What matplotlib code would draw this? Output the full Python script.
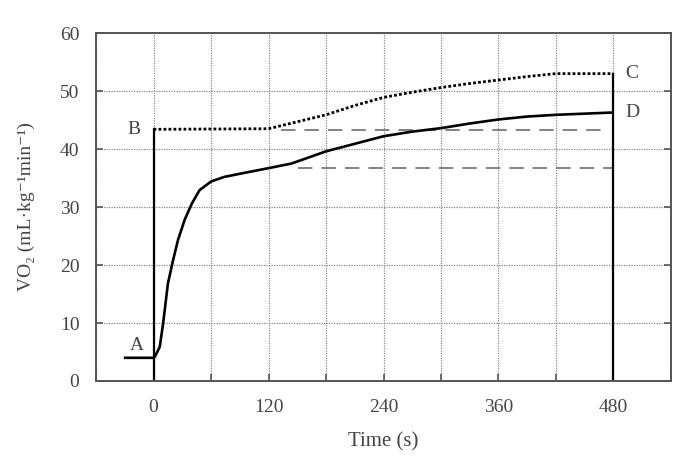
import matplotlib.pyplot as plt
from matplotlib.ticker import MultipleLocator

# solid curve (A -> D)
t_solid = [-31, 0, 1.5, 6.5, 10, 15, 20.5, 25.5, 32.5, 40, 48, 60, 74, 92, 120, 144,
           180, 210, 240, 270, 300, 330, 360, 390, 420, 450, 480]
v_solid = [4.0, 4.0, 4.2, 5.9, 9.9, 16.8, 20.9, 24.3, 27.8, 30.6, 32.9, 34.4, 35.2, 35.8,
           36.7, 37.5, 39.6, 40.9, 42.2, 43.0, 43.6, 44.4, 45.1, 45.6, 45.9, 46.1, 46.3]

# dotted curve (B -> C)
t_dot = [0, 120, 150, 180, 210, 240, 270, 300, 330, 360, 390, 420, 480]
v_dot = [43.4, 43.5, 44.7, 45.9, 47.5, 48.9, 49.8, 50.6, 51.3, 51.9, 52.5, 53.0, 53.0]

# vertical step lines
t_step = [0, 480]
v_step = [43.4, 53.0]

# gray dashed reference levels
dash_level = [43.3, 36.7]
dash_start = [133, 151]
dash_end = [469, 480]

labels = ["A", "B", "C", "D"]
label_t = [-10, -14, 492, 492]
label_v = [6.2, 43.4, 53.0, 46.3]
label_ha = ["right", "right", "left", "left"]

txt = "#444444"
font = ["Liberation Serif", "DejaVu Serif"]
plt.rcParams["font.family"] = font

fig = plt.figure(figsize=(6.83, 4.72), dpi=100)
ax = fig.add_axes([0.1406, 0.1928, 0.8418, 0.7372])

ax.set_xlim(-60, 540)
ax.set_ylim(0, 60)
ax.xaxis.set_major_locator(MultipleLocator(120))
ax.xaxis.set_minor_locator(MultipleLocator(60))
ax.yaxis.set_major_locator(MultipleLocator(10))
ax.set_xticks([0, 120, 240, 360, 480])
ax.grid(True, which="both", axis="x", color="#888888", lw=0.9, ls=(0, (1, 1)))
ax.grid(True, which="major", axis="y", color="#888888", lw=0.9, ls=(0, (1, 1)))
ax.tick_params(which="both", direction="in", length=5, width=1.2, color="#555555",
               labelsize=14, labelcolor=txt, right=True)
ax.tick_params(axis="y", pad=12)
ax.tick_params(axis="x", pad=13)
ax.tick_params(axis="x", which="minor", labelbottom=False)
for s in ax.spines.values():
    s.set_color("#555555")
    s.set_linewidth(1.4)

for lv, a, b in zip(dash_level, dash_start, dash_end):
    ax.plot([a, b], [lv, lv], color="#777777", lw=1.3, ls=(0, (8, 5)))

ax.plot(t_solid, v_solid, color="black", lw=1.9, solid_capstyle="butt")
ax.plot(t_dot, v_dot, color="black", lw=2.0, ls=(0, (1, 0.8)))
for t, v in zip(t_step, v_step):
    ax.plot([t, t], [0, v], color="black", lw=1.6)

for s, x, y, ha in zip(labels, label_t, label_v, label_ha):
    ax.text(x, y, s, ha=ha, va="center", fontsize=14, color=txt)

ax.set_xlabel("Time (s)", fontsize=15, color=txt, labelpad=12)
ax.set_ylabel("VO\u2082 (mL\u00b7kg\u207b\u00b9min\u207b\u00b9)", fontsize=14, color=txt, labelpad=18)

fig.savefig("out.png", dpi=100)
